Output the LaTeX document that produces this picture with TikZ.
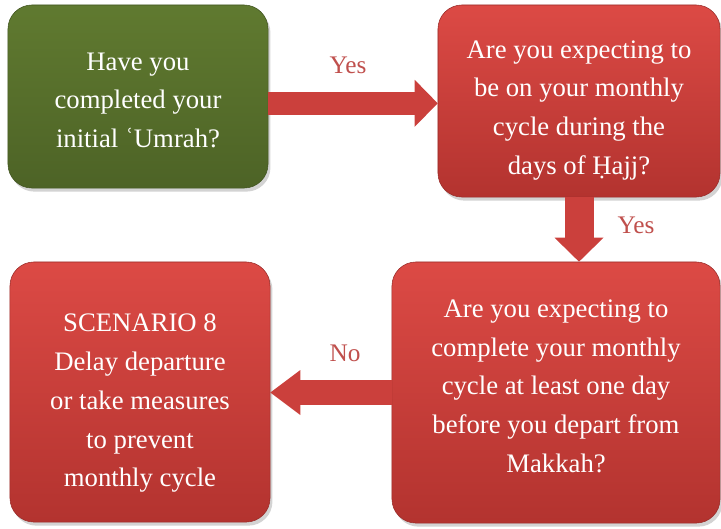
\documentclass[tikz,border=0pt]{standalone}
\usepackage{fontspec}
\setmainfont{Liberation Serif}
\usetikzlibrary{arrows.meta,shadows}
\definecolor{redtop}{HTML}{DC4A45}
\definecolor{redbottom}{HTML}{B3332F}
\definecolor{greentop}{HTML}{607A30}
\definecolor{greenbottom}{HTML}{4D6326}
\definecolor{arrowred}{HTML}{CB403C}
\definecolor{labelred}{HTML}{C0504D}
\newcommand{\boxtext}[2]{\raisebox{#1}[0pt][0pt]{\begin{tabular}{@{}c@{}}#2\end{tabular}}}

\begin{document}
\begin{tikzpicture}[x=0.025cm,y=-0.025cm]
  \tikzstyle{question}=[rectangle, rounded corners=0.6cm, top color=redtop, bottom color=redbottom,
draw=redbottom!85!black, text=white, font=\fontsize{19}{27.6}\selectfont,
drop shadow={shadow xshift=0.06cm, shadow yshift=-0.09cm, opacity=0.35}]
  \tikzstyle{answer}=[text=labelred, font=\fontsize{18}{20}\selectfont]
  \tikzstyle{blockarrow}=[draw=arrowred]
  \useasboundingbox (0,0) rectangle (721,528);
  \node[question, top color=greentop, bottom color=greenbottom, draw=greenbottom!85!black,
minimum width=6.5cm, minimum height=4.575cm] (Q_1) at (138,96.5)
{\boxtext{-0.27cm}{Have you\\completed your\\initial ʿUmrah?}};
  \node[question, minimum width=7.05cm, minimum height=4.8cm] (Q_2) at (579,101)
{\boxtext{-0.34cm}{Are you expecting to\\be on your monthly\\cycle during the\\days of Ḥajj?}};
  \node[question, minimum width=8.2cm, minimum height=6.525cm] (Q_3) at (556,392.5)
{\boxtext{-0.02cm}{Are you expecting to\\complete your monthly\\cycle at least one day\\before you depart from\\Makkah?}};
  \node[question, minimum width=6.5cm, minimum height=6.5cm] (S_8) at (140,392)
{\boxtext{-0.39cm}{SCENARIO 8\\Delay departure\\or take measures\\to prevent\\monthly cycle}};
  \draw [blockarrow, line width=0.575cm, -{Triangle[length=0.575cm,width=1.175cm,line width=0pt]}]
([yshift=-0.17cm]Q_1.east) -- ([yshift=-0.17cm]Q_1.east -| Q_2.west);
  \draw [blockarrow, line width=0.725cm, -{Triangle[length=0.6cm,width=1.225cm,line width=0pt]}]
(Q_2.south) -- (Q_2.south |- Q_3.north);
  \draw [blockarrow, line width=0.625cm, -{Triangle[length=0.75cm,width=1.125cm,line width=0pt]}]
(Q_3.west) -- (Q_3.west -| S_8.east);

  \node[answer] (Y_1) at (348,65) {Yes};
  \node[answer] (Y_2) at (636,225) {Yes};
  \node[answer] (N_1) at (345,353) {No};
\end{tikzpicture}
\end{document}
